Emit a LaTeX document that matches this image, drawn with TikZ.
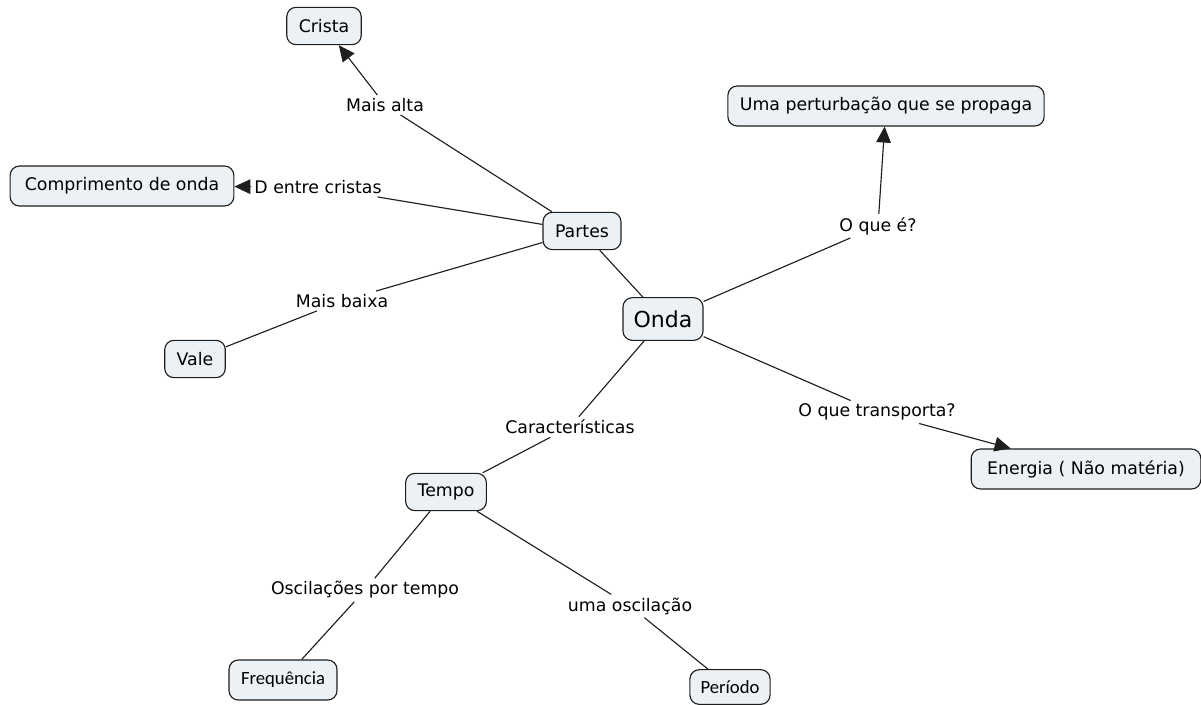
\documentclass[tikz,border=0pt]{standalone}
\usepackage{fontspec}
\setmainfont{DejaVu Sans}
\newfontfamily\carlito{Carlito}
\usetikzlibrary{arrows.meta}
\definecolor{caixa}{HTML}{EBF1F4}
\definecolor{borda}{HTML}{1E1E1E}

\begin{document}
\begin{tikzpicture}[x=0.75pt, y=-0.75pt, line width=0.85pt, color=borda,
    conceito/.style={draw=borda, fill=caixa, rounded corners=7pt, inner xsep=9pt, minimum height=28pt, text=black, font=\fontsize{13}{15}\selectfont},
    ligacao/.style={inner sep=2pt, text=black, font=\fontsize{13}{15}\selectfont},
    seta/.style={-{Triangle[length=12pt,width=11pt]}}]
  \useasboundingbox (0,0) rectangle (1201,704);

    \node[conceito, font=\fontsize{16.5}{18}\selectfont, minimum height=32pt, inner xsep=8pt] (onda) at (663, 319) {Onda};

      \node[conceito] (partes) at (582, 231) {Partes};
        \draw (onda) -- (partes);

      \node[ligacao] (altta) at (385, 105) {Mais alta};
        \draw (partes) -- (altta);
      \node[conceito] (crista) at (324, 26) {Crista};
        \draw[seta] (altta) -- (crista);

      \node[ligacao] (entre) at (318, 187) {D entre cristas};
        \draw (partes) -- (entre);
      \node[conceito, minimum height=30pt, inner xsep=11pt] (compr) at (122, 186) {Comprimento de onda};
        \draw[seta] (entre) -- (compr);

      \node[ligacao] (baixa) at (342, 301) {Mais baixa};
        \draw (partes) -- (baixa);
      \node[conceito] (vale) at (195, 359) {Vale};
        \draw (baixa) -- (vale);

      \node[ligacao] (oque) at (878, 226) {O que é?};
        \draw (onda) -- (oque);
      \node[conceito, minimum height=30pt] (pert) at (886, 106) {Uma perturbação que se propaga};
        \draw[seta] (oque) -- (pert);

      \node[ligacao] (transp) at (877, 412) {O que transporta?};
        \draw (onda) -- (transp);
      \node[conceito, minimum height=30pt, inner xsep=12pt] (energia) at (1086, 469) {Energia ( Não matéria)};
        \draw[seta] (transp) -- (energia);

      \node[ligacao] (carac) at (570, 427) {Características};
        \draw (onda) -- (carac);
      \node[conceito] (tempo) at (446, 492) {Tempo};
        \draw (carac) -- (tempo);

      \node[ligacao] (osctempo) at (365, 590) {Oscilações por tempo};
        \draw (tempo) -- (osctempo);
      \node[conceito, font=\carlito\fontsize{14}{16}\selectfont, minimum height=30pt] (freq) at (283, 680) {Frequência};
        \draw (osctempo) -- (freq);

      \node[ligacao] (umaosc) at (630, 606) {uma oscilação};
        \draw (tempo) -- (umaosc);
      \node[conceito, font=\carlito\fontsize{14}{16}\selectfont, minimum height=26pt, inner xsep=8pt] (periodo) at (730, 687) {Período};
        \draw (umaosc) -- (periodo);
\end{tikzpicture}
\end{document}
